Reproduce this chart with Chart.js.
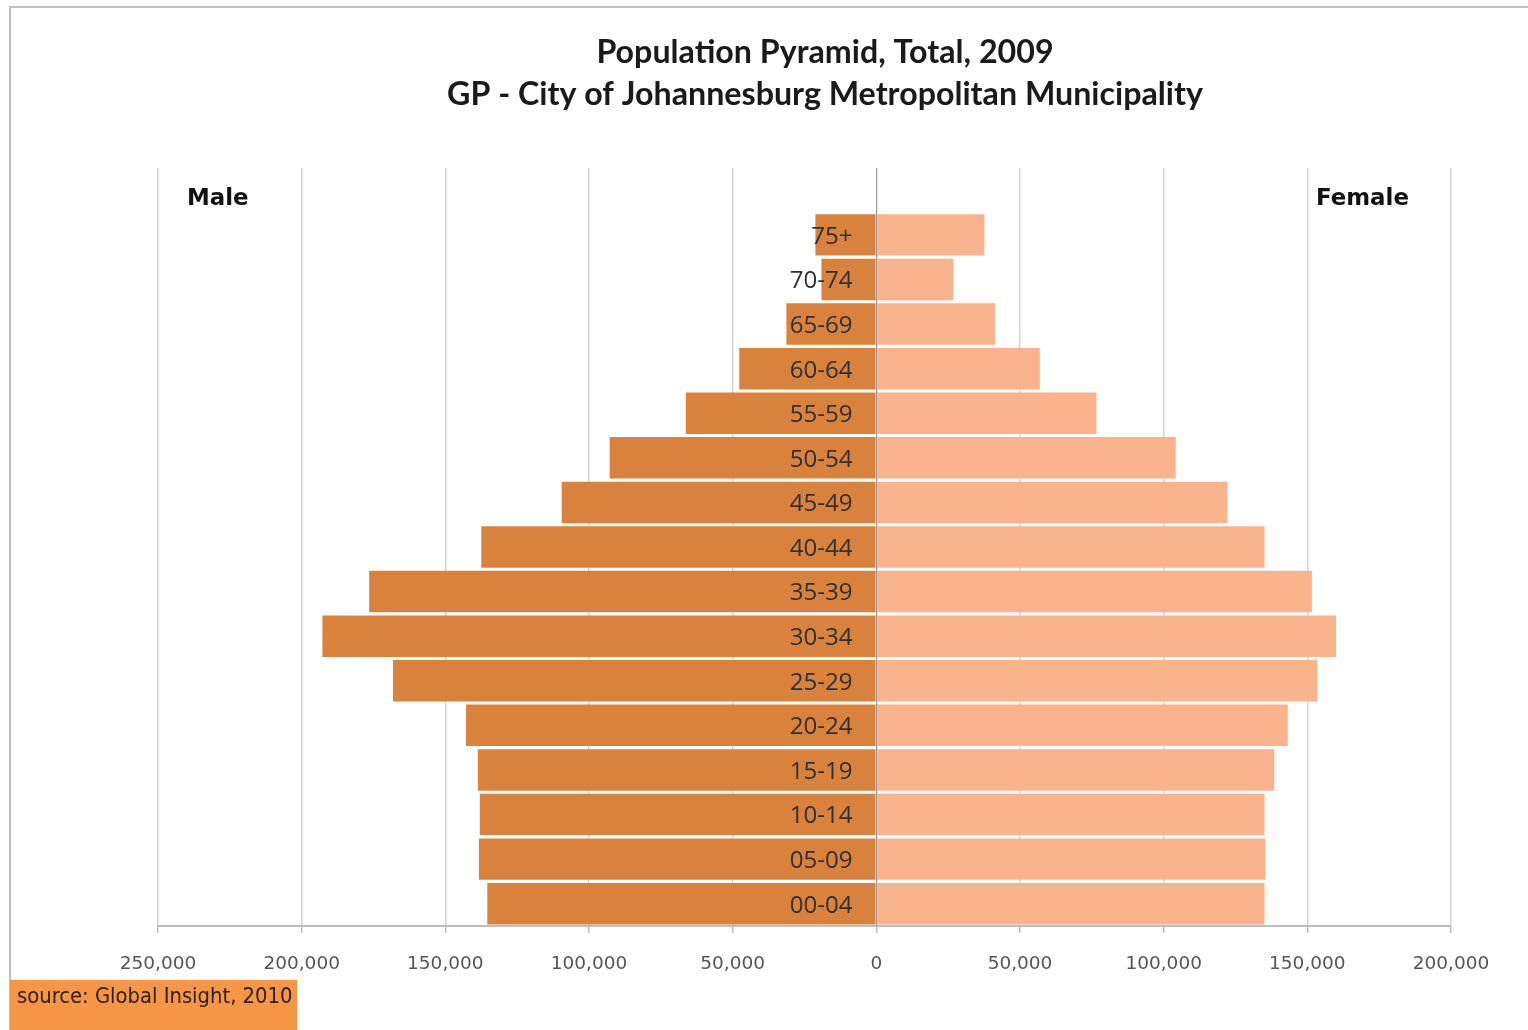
<!DOCTYPE html>
<html>
<head>
<meta charset="utf-8">
<script src="https://cdn.jsdelivr.net/npm/chart.js@4.4.1/dist/chart.umd.min.js"></script>
<style>
html,body{margin:0;padding:0;background:#fff;overflow:hidden}
canvas{display:block}
</style>
</head>
<body>
<canvas id="c" width="1528" height="1030"></canvas>
<script>
// ---- data (top row first) ----
const ageGroups = ['75+','70-74','65-69','60-64','55-59','50-54','45-49','40-44','35-39','30-34','25-29','20-24','15-19','10-14','05-09','00-04'];
const male   = [21200, 19100, 31300, 47700, 66300, 92800, 109500, 137500, 176500, 192800, 168200, 142800, 138700, 138000, 138300, 135400];
const female = [37600, 26800, 41300, 56900, 76600, 104200, 122200, 135100, 151600, 160000, 153500, 143200, 138500, 135100, 135400, 135100];
const xTicks = [-250000,-200000,-150000,-100000,-50000,0,50000,100000,150000,200000];
const titleLines = ['Population Pyramid, Total, 2009', 'GP - City of Johannesburg Metropolitan Municipality'];
const sideLabels = ['Male', 'Female'];
const sourceText = 'source: Global Insight, 2010';

// top slot left empty for the Male / Female captions
const labels = [''].concat(ageGroups);
const maleData = [null].concat(male.map(v => -v));
const femaleData = [null].concat(female);

function fitSize(ctx, text, weight, family, target) {
  ctx.font = weight + ' 100px ' + family;
  return 100 * target / ctx.measureText(text).width;
}

const decor = {
  id: 'decor',
  beforeDraw(chart) {
    const ctx = chart.ctx;
    ctx.save();
    ctx.fillStyle = '#ffffff';
    ctx.fillRect(0, 0, chart.width, chart.height);
    // outer frame
    ctx.strokeStyle = '#BDBDBD';
    ctx.lineWidth = 2;
    ctx.beginPath();
    ctx.moveTo(10, 1030);
    ctx.lineTo(10, 7);
    ctx.lineTo(1528, 7);
    ctx.stroke();
    ctx.restore();
  },
  afterDatasetsDraw(chart) {
    const ctx = chart.ctx;
    const xs = chart.scales.x, ys = chart.scales.y;
    const area = chart.chartArea;
    ctx.save();
    // zero line
    const x0 = Math.round(xs.getPixelForValue(0)) + 0.5;
    ctx.strokeStyle = '#9A9A9A';
    ctx.lineWidth = 1;
    ctx.beginPath();
    ctx.moveTo(x0, area.top);
    ctx.lineTo(x0, area.bottom);
    ctx.stroke();

    // age labels
    const lf = '"Open Sans", "Noto Sans", sans-serif';
    const ls = fitSize(ctx, '00-04', '500', lf, 63);
    ctx.font = '500 ' + ls.toFixed(1) + 'px ' + lf;
    ctx.fillStyle = '#303030';
    ctx.textAlign = 'right';
    ctx.textBaseline = 'middle';
    ageGroups.forEach((g, i) => {
      ctx.fillText(g, x0 - 24, ys.getPixelForValue(i + 1) + 2);
    });

    // Male / Female captions
    const sf = '"DejaVu Sans", Verdana, sans-serif';
    const ss = fitSize(ctx, 'Female', 'bold', sf, 93);
    ctx.font = 'bold ' + ss.toFixed(1) + 'px ' + sf;
    ctx.fillStyle = '#111111';
    ctx.textAlign = 'left';
    ctx.fillText(sideLabels[0], 187, 199);
    ctx.fillText(sideLabels[1], 1316, 199);

    // title
    const tf = 'Lato, "Open Sans", sans-serif';
    const ts = fitSize(ctx, titleLines[1], 'bold', tf, 756);
    ctx.font = 'bold ' + ts.toFixed(1) + 'px ' + tf;
    ctx.fillStyle = '#1A1A1A';
    ctx.textAlign = 'center';
    ctx.fillText(titleLines[0], 825, 53);
    ctx.fillText(titleLines[1], 825, 95);

    // source box
    ctx.fillStyle = '#F79646';
    ctx.fillRect(10, 980, 287, 50);
    const cf = '"DejaVu Sans Condensed", "DejaVu Sans", sans-serif';
    const cs = fitSize(ctx, sourceText, '400', cf, 276);
    ctx.font = '400 ' + cs.toFixed(1) + 'px ' + cf;
    ctx.fillStyle = '#2E2010';
    ctx.textAlign = 'left';
    ctx.fillText(sourceText, 17, 997);
    ctx.restore();
  }
};

new Chart(document.getElementById('c'), {
  type: 'bar',
  data: {
    labels: labels,
    datasets: [
      { label: 'Male', data: maleData, backgroundColor: '#D9823D', borderWidth: 0, barPercentage: 0.93, categoryPercentage: 1, stack: 's' },
      { label: 'Female', data: femaleData, backgroundColor: '#F9B48E', borderWidth: 0, barPercentage: 0.93, categoryPercentage: 1, stack: 's' }
    ]
  },
  options: {
    indexAxis: 'y',
    responsive: false,
    devicePixelRatio: 1,
    animation: false,
    layout: { padding: { left: 158, right: 77, top: 168, bottom: 0 } },
    plugins: { legend: { display: false }, title: { display: false }, tooltip: { enabled: false } },
    scales: {
      x: {
        type: 'linear',
        stacked: true,
        min: -250000,
        max: 200000,
        afterBuildTicks: s => { s.ticks = xTicks.map(v => ({ value: v })); },
        afterFit: s => { s.height = 104; },
        ticks: {
          callback: v => Math.abs(v).toLocaleString('en-US'),
          font: { family: '"DejaVu Sans", Verdana, sans-serif', size: 18.5 },
          color: '#555555',
          padding: 20,
          maxRotation: 0,
          autoSkip: false
        },
        grid: { color: '#D4D4D4', lineWidth: 1.5, tickLength: 7, tickColor: '#BDBDBD', drawTicks: true },
        border: { display: true, color: '#BDBDBD', width: 2 }
      },
      y: {
        type: 'category',
        stacked: true,
        display: false,
        grid: { display: false }
      }
    }
  },
  plugins: [decor]
});
</script>
</body>
</html>
